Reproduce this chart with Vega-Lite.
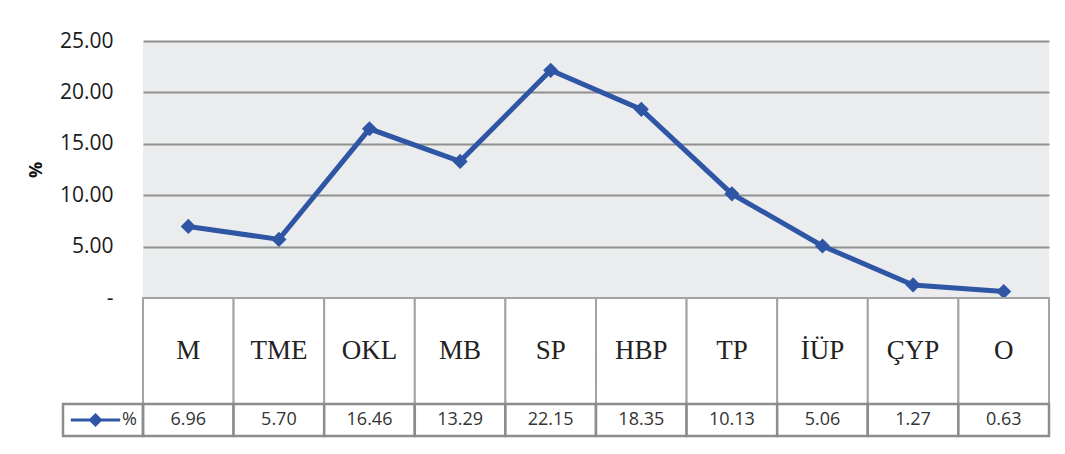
{
  "$schema": "https://vega.github.io/schema/vega-lite/v6.json",
  "padding": {"left": 27, "top": 30, "right": 16, "bottom": 19},
  "background": "white",
  "bounds": "flush",
  "spacing": 0,
  "datasets": {
    "d": [
      {"cat": "M", "pct": 6.96},
      {"cat": "TME", "pct": 5.70},
      {"cat": "OKL", "pct": 16.46},
      {"cat": "MB", "pct": 13.29},
      {"cat": "SP", "pct": 22.15},
      {"cat": "HBP", "pct": 18.35},
      {"cat": "TP", "pct": 10.13},
      {"cat": "İÜP", "pct": 5.06},
      {"cat": "ÇYP", "pct": 1.27},
      {"cat": "O", "pct": 0.63}
    ]
  },
  "resolve": {"scale": {"x": "independent", "y": "independent", "color": "independent"}},
  "vconcat": [
    {
      "width": 906,
      "height": 257,
      "data": {"name": "d"},
      "view": {"fill": "#eaeced", "stroke": null},
      "encoding": {
        "x": {"field": "cat", "type": "nominal", "sort": null, "scale": {"padding": 0.5}, "axis": null},
        "y": {
          "field": "pct",
          "type": "quantitative",
          "scale": {"domain": [0, 25], "nice": false},
          "axis": {
            "values": [0, 5, 10, 15, 20, 25],
            "labelExpr": "datum.value == 0 ? '-\u00a0\u00a0\u00a0' : format(datum.value, '.2f')",
            "title": "%",
            "titleFont": "Open Sans",
            "titleFontWeight": "bold",
            "titleFontSize": 18,
            "titleColor": "#111111",
            "titlePadding": 14,
            "labelFont": "Open Sans",
            "labelFontSize": 21,
            "labelColor": "#1a1a1a",
            "labelPadding": 30,
            "ticks": false,
            "domain": false,
            "grid": true,
            "gridColor": "#8f8f8f",
            "gridWidth": 2
          }
        }
      },
      "layer": [
        {"mark": {"type": "line", "color": "#2f55a5", "strokeWidth": 5}},
        {"mark": {"type": "point", "shape": "diamond", "filled": true, "size": 230, "color": "#2f55a5", "opacity": 1}}
      ]
    },
    {
      "width": 906,
      "height": 106,
      "data": {"name": "d"},
      "view": {"stroke": null},
      "encoding": {
        "x": {"field": "cat", "type": "nominal", "sort": null, "scale": {"paddingInner": 0, "paddingOuter": 0}, "axis": null}
      },
      "layer": [
        {"mark": {"type": "rect", "fill": "white", "stroke": "#a3a3a3", "strokeWidth": 2}},
        {
          "mark": {"type": "text", "font": "Liberation Serif", "fontSize": 27, "color": "#222222"},
          "encoding": {"text": {"field": "cat"}}
        }
      ]
    },
    {
      "width": 906,
      "height": 32,
      "data": {"name": "d"},
      "view": {"stroke": null},
      "encoding": {
        "x": {"field": "cat", "type": "nominal", "sort": null, "scale": {"paddingInner": 0, "paddingOuter": 0}, "axis": null}
      },
      "layer": [
        {"mark": {"type": "rect", "fill": "white", "stroke": "#8c8c8c", "strokeWidth": 2.5}},
        {
          "mark": {"type": "text", "font": "Open Sans", "fontSize": 18, "color": "#333333"},
          "encoding": {"text": {"field": "pct", "type": "quantitative", "format": ".2f"}}
        },
        {
          "mark": {"type": "point", "opacity": 0, "filled": true},
          "encoding": {
            "color": {
              "datum": "%",
              "scale": {"range": ["#2f55a5"]},
              "legend": {
                "title": null,
                "orient": "left",
                "offset": 0,
                "padding": 6,
                "strokeColor": "#8c8c8c",
                "symbolType": "M-1,0H1M0,-0.2L0.2,0L0,0.2L-0.2,0Z",
                "symbolSize": 2440,
                "symbolStrokeWidth": 6,
                "symbolOpacity": 1,
                "clipHeight": 20,
                "labelExpr": "'%\u00a0'",
                "labelFont": "Open Sans",
                "labelFontSize": 18,
                "labelColor": "#333333",
                "labelOffset": 0,
                "encode": {
                  "legend": {"update": {"strokeWidth": {"value": 2.5}}},
                  "symbols": {"update": {"stroke": {"value": "#2f55a5"}, "fill": {"value": "#2f55a5"}, "strokeWidth": {"value": 3}, "opacity": {"value": 1}}}
                }
              }
            }
          }
        }
      ]
    }
  ]
}
